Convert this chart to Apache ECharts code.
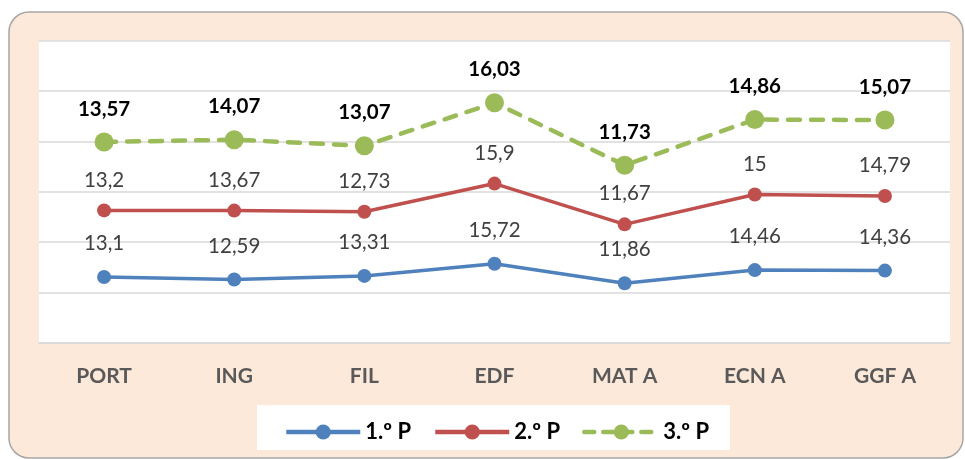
<!DOCTYPE html>
<html>
<head>
<meta charset="utf-8">
<script src="https://cdn.jsdelivr.net/npm/echarts@6/dist/echarts.min.js"></script>
<style>
html,body{margin:0;padding:0;background:#fff;}
#c{width:965px;height:459px;}
</style>
</head>
<body>
<div id="c"></div>
<script>
const categories = ['PORT', 'ING', 'FIL', 'EDF', 'MAT A', 'ECN A', 'GGF A'];
const seriesNames = ['1.º P', '2.º P', '3.º P'];
const p1 = [13.1, 12.59, 13.31, 15.72, 11.86, 14.46, 14.36];
const p2 = [13.2, 13.67, 12.73, 15.9, 11.67, 15, 14.79];
const p3 = [13.57, 14.07, 13.07, 16.03, 11.73, 14.86, 15.07];

const FONT = 'Lato';
const fmt = p => String(p.value).replace('.', ',');

const chart = echarts.init(document.getElementById('c'));
chart.setOption({
  animation: false,
  textStyle: { fontFamily: FONT },
  graphic: [
    { type: 'rect', z: -20, shape: { x: 9, y: 12, width: 954, height: 446, r: 20 },
      style: { fill: '#fde9d9', stroke: '#a6a6a6', lineWidth: 1.5 } },
    { type: 'rect', z: -10, shape: { x: 257, y: 405, width: 473, height: 45 },
      style: { fill: '#ffffff' } }
  ],
  grid: { left: 39, right: 15, top: 40.5, bottom: 116, show: true, backgroundColor: '#ffffff', borderWidth: 0 },
  legend: {
    left: 279, top: 416, itemWidth: 74, itemHeight: 19, itemGap: 22,
    textStyle: { fontFamily: FONT, fontWeight: 'bold', fontSize: 22, color: '#000' },
    data: [
      { name: seriesNames[0], lineStyle: { width: 4.5 } },
      { name: seriesNames[1], lineStyle: { width: 4.5 } },
      { name: seriesNames[2], lineStyle: { width: 4.5, type: [10, 9], cap: 'round' } }
    ]
  },
  xAxis: {
    type: 'category', data: categories, boundaryGap: true,
    axisLine: { lineStyle: { color: '#d9d9d9', width: 1.5 } },
    axisTick: { show: false },
    axisLabel: { fontFamily: FONT, fontWeight: 'bold', fontSize: 21, color: '#595959', margin: 23 }
  },
  yAxis: {
    type: 'value', min: 0, max: 60, interval: 10,
    axisLabel: { show: false }, axisLine: { show: false }, axisTick: { show: false },
    splitLine: { lineStyle: { color: '#d9d9d9', width: 1.5 } }
  },
  series: [
    { name: seriesNames[0], type: 'line', stack: 'total', data: p1,
      symbol: 'circle', symbolSize: 14, color: '#4f81bd',
      lineStyle: { width: 3.5, color: '#4f81bd' },
      label: { show: true, position: 'top', distance: 16, formatter: fmt,
        fontFamily: FONT, fontSize: 20.5, color: '#404040' } },
    { name: seriesNames[1], type: 'line', stack: 'total', data: p2,
      symbol: 'circle', symbolSize: 14, color: '#c0504d',
      lineStyle: { width: 3.5, color: '#c0504d' },
      label: { show: true, position: 'top', distance: 13, formatter: fmt,
        fontFamily: FONT, fontSize: 20.5, color: '#404040' } },
    { name: seriesNames[2], type: 'line', stack: 'total', data: p3,
      symbol: 'circle', symbolSize: 19, color: '#9bbb59',
      lineStyle: { width: 4.5, color: '#9bbb59', type: [12, 11], cap: 'round' },
      label: { show: true, position: 'top', distance: 13, formatter: fmt,
        fontFamily: FONT, fontSize: 20.5, fontWeight: 'bold', color: '#000' } }
  ]
});
</script>
</body>
</html>
